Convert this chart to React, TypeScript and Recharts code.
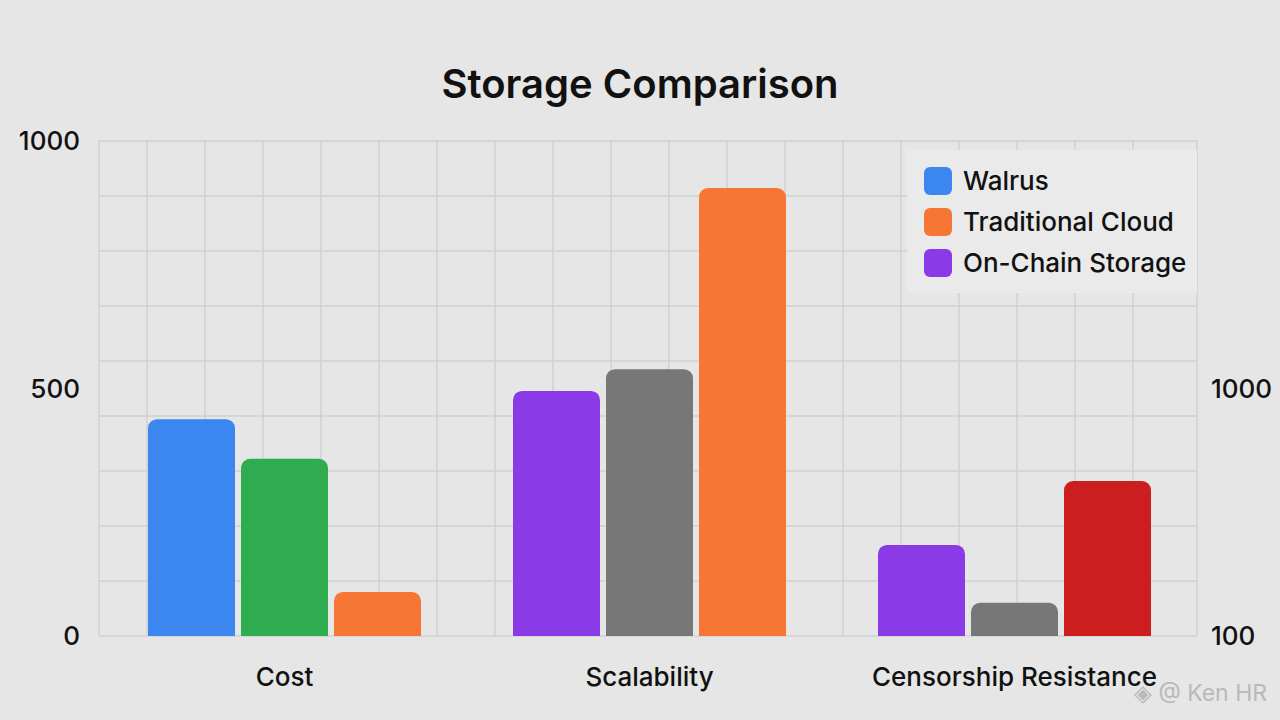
import React from 'react';
import { BarChart, Bar, XAxis, YAxis, CartesianGrid, Cell } from 'recharts';

const categories = ['Cost', 'Scalability', 'Censorship Resistance'];
const walrusValues = [438, 495, 184];
const traditionalValues = [358, 539, 67];
const onChainValues = [89, 905, 313];
const series1Colors = ['#3b86ef', '#8a3ae6', '#8a3ae6'];
const series2Colors = ['#2eac4f', '#777777', '#777777'];
const series3Colors = ['#f77535', '#f77535', '#cc1e1e'];
const legendItems = [
  { name: 'Walrus', color: '#3b86ef' },
  { name: 'Traditional Cloud', color: '#f77535' },
  { name: 'On-Chain Storage', color: '#8a3ae6' },
];
const leftTicks = [0, 500, 1000];
const rightTicks = [100, 1000];
// grid layout: 9 horizontal intervals; vertical lines every 58/1098 of width starting at 48/1098
const GRID_ROWS = 9;
const GRID_COLS = 18;
const GRID_COL_START = 48 / 1098;
const GRID_COL_STEP = 58 / 1098;

const data = categories.map((c, i) => ({
  category: c,
  walrus: walrusValues[i],
  traditional: traditionalValues[i],
  onchain: onChainValues[i],
}));

const FONT = 'Inter, "Noto Sans", sans-serif';

const hGen = ({ offset }: any) => {
  const pts: number[] = [];
  for (let i = 0; i <= GRID_ROWS; i++) pts.push(offset.top + (offset.height * i) / GRID_ROWS);
  return pts;
};
const vGen = ({ offset }: any) => {
  const pts: number[] = [offset.left];
  for (let i = 0; i < GRID_COLS; i++) pts.push(offset.left + offset.width * (GRID_COL_START + GRID_COL_STEP * i));
  pts.push(offset.left + offset.width);
  return pts;
};

export default function App() {
  return (
    <div
      style={{
        position: 'absolute',
        left: 0,
        top: 0,
        width: 1280,
        height: 720,
        background: '#e5e6e5',
        fontFamily: FONT,
        overflow: 'hidden',
      }}
    >
      <div
        style={{
          position: 'absolute',
          top: 58,
          left: 0,
          width: 1280,
          textAlign: 'center',
          fontSize: 40,
          fontWeight: 600,
          color: '#111',
          lineHeight: '52px',
        }}
      >
        Storage Comparison
      </div>
      <BarChart
        width={1280}
        height={720}
        data={data}
        margin={{ top: 141, right: 0, bottom: 0, left: 0 }}
        barSize={87}
        barGap={6}
      >
        <CartesianGrid
          stroke="#cfd0cf"
          strokeWidth={1.5}
          horizontalCoordinatesGenerator={hGen}
          verticalCoordinatesGenerator={vGen}
        />
        <XAxis
          dataKey="category"
          height={84}
          axisLine={false}
          tickLine={false}
          tickSize={6}
          tickMargin={26}
          padding={{ left: 3, right: 0 }}
          tick={{ fill: '#111', fontSize: 26, fontWeight: 500, fontFamily: FONT }}
        />
        <YAxis
          yAxisId="left"
          domain={[0, 1000]}
          ticks={leftTicks}
          width={99}
          axisLine={false}
          tickLine={false}
          tickSize={6}
          tickMargin={13}
          tick={{ fill: '#111', fontSize: 26, fontWeight: 500, fontFamily: FONT }}
        />
        <YAxis
          yAxisId="right"
          orientation="right"
          scale="log"
          domain={[100, 10000]}
          ticks={rightTicks}
          allowDataOverflow
          width={83}
          axisLine={false}
          tickLine={false}
          tickSize={6}
          tickMargin={8}
          tick={{ fill: '#111', fontSize: 26, fontWeight: 500, fontFamily: FONT }}
        />
        <Bar yAxisId="left" dataKey="walrus" name="Walrus" radius={[9, 9, 0, 0]} isAnimationActive={false}>
          {data.map((d, i) => (
            <Cell key={d.category} fill={series1Colors[i]} />
          ))}
        </Bar>
        <Bar yAxisId="left" dataKey="traditional" name="Traditional Cloud" radius={[9, 9, 0, 0]} isAnimationActive={false}>
          {data.map((d, i) => (
            <Cell key={d.category} fill={series2Colors[i]} />
          ))}
        </Bar>
        <Bar yAxisId="left" dataKey="onchain" name="On-Chain Storage" radius={[9, 9, 0, 0]} isAnimationActive={false}>
          {data.map((d, i) => (
            <Cell key={d.category} fill={series3Colors[i]} />
          ))}
        </Bar>
      </BarChart>
      <div
        style={{
          position: 'absolute',
          left: 907,
          top: 150,
          background: '#e9eae9',
          width: 290,
          height: 143,
          boxSizing: 'border-box',
          paddingLeft: 17,
          paddingTop: 10,
          fontFamily: FONT,
        }}
      >
        {legendItems.map((it) => (
          <div key={it.name} style={{ display: 'flex', alignItems: 'center', height: 41 }}>
            <div style={{ width: 28, height: 28, borderRadius: 6, background: it.color, marginRight: 11 }} />
            <span style={{ fontSize: 26, fontWeight: 500, color: '#111', whiteSpace: 'nowrap' }}>{it.name}</span>
          </div>
        ))}
      </div>
      <div
        style={{
          position: 'absolute',
          left: 1134,
          top: 679,
          fontSize: 23,
          color: '#b9b9b9',
          fontFamily: FONT,
          whiteSpace: 'nowrap',
        }}
      >
        ◈ @ Ken HR
      </div>
    </div>
  );
}
